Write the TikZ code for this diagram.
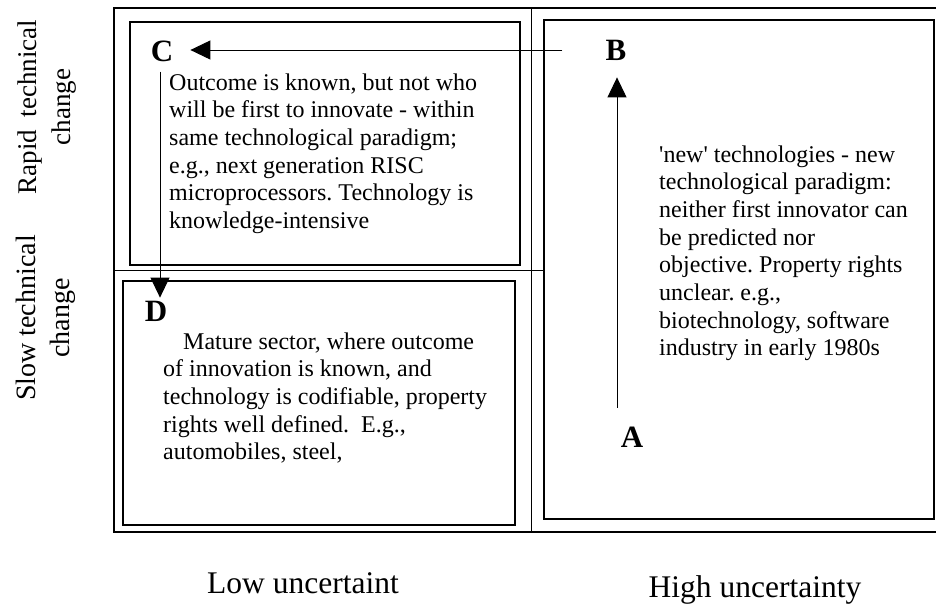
\documentclass[tikz,border=0pt]{standalone}
\usepackage{fontspec}
\setmainfont{Liberation Serif}
\usetikzlibrary{arrows.meta}
\frenchspacing
\newcommand{\txtlines}[1]{\begin{tabular}[t]{@{}l@{}}#1\end{tabular}}
\begin{document}
\begin{tikzpicture}[x=1pt,y=-1pt,
  frame/.style={draw=black,line width=1.5pt},
  box/.style={draw=black,line width=1.3pt,inner sep=0pt,outer sep=0pt,anchor=north west},
  divider/.style={draw=black,line width=1pt},
  letter/.style={font=\fontsize{31}{31}\selectfont\bfseries,inner sep=0pt},
  body/.style={font=\fontsize{24}{27.7}\selectfont\frenchspacing,inner sep=0pt,anchor=base west},
  axis/.style={font=\fontsize{31.5}{36}\selectfont,inner sep=0pt,anchor=base},
  side/.style={font=\fontsize{28}{34}\selectfont,rotate=90,align=center,inner sep=0pt},
  arr/.style={draw=black,line width=1pt,-{Triangle[length=20pt,width=19pt]}}]
\useasboundingbox (0,0) rectangle (936,603);

% outer frame and dividers
\draw[frame] (114,8) rectangle (940,532);
\draw[divider] (531,8) -- (531,532);
\draw[divider] (114,270) -- (544,270);

% inner boxes
\node[box,minimum width=390pt,minimum height=243pt] (boxC) at (130,22) {};
\node[box,minimum width=392pt,minimum height=244pt] (boxD) at (123,281) {};
\node[box,minimum width=390pt,minimum height=499pt] (boxB) at (544,20) {};

% letters
\node[letter] (C) at (162,51) {C};
\node[letter] (B) at (616,50) {B};
\node[letter] (A) at (632,437) {A};
\node[letter] (D) at (156,311) {D};

% arrows
\draw[arr,shorten <=43pt,shorten >=17pt] (B.west) -- (B.west -| C.east);
\draw[arr,shorten <=10pt,shorten >=3pt] ([xshift=-2pt]C.south) -- ([xshift=-2pt]C.south |- D.north);
\draw[arr,shorten <=19pt,shorten >=17pt] ([xshift=1pt]A.north -| B.south) -- ([xshift=1pt]B.south);

% texts
\node[body] (ctext) at (169,90) {\txtlines{Outcome is known, but not who\\
will be first to innovate - within\\
same technological paradigm;\\
e.g., next generation RISC\\
microprocessors. Technology is\\
knowledge-intensive}};

\node[body] (btext) at (659,162) {\txtlines{\textquotesingle new\textquotesingle\ technologies - new\\
technological paradigm:\\
neither first innovator can\\
be predicted nor\\
objective. Property rights\\
unclear. e.g.,\\
biotechnology, software\\
industry in early 1980s}};

\node[body] (dtext) at (163,349) {\txtlines{\hspace*{20pt}Mature sector, where outcome\\
of innovation is known, and\\
technology is codifiable, property\\
rights well defined.\ \ E.g.,\\
automobiles, steel,}};

% axis labels
\node[axis] (low) at (303,593) {Low uncertaint};
\node[axis] (high) at (755,597) {High uncertainty};
\node[side,font=\fontsize{27}{34}\selectfont] (rapid) at (47,107) {Rapid\hspace{0.45em}technical\\change};
\node[side] (slow) at (46,318) {Slow technical\\change};
\end{tikzpicture}
\end{document}
